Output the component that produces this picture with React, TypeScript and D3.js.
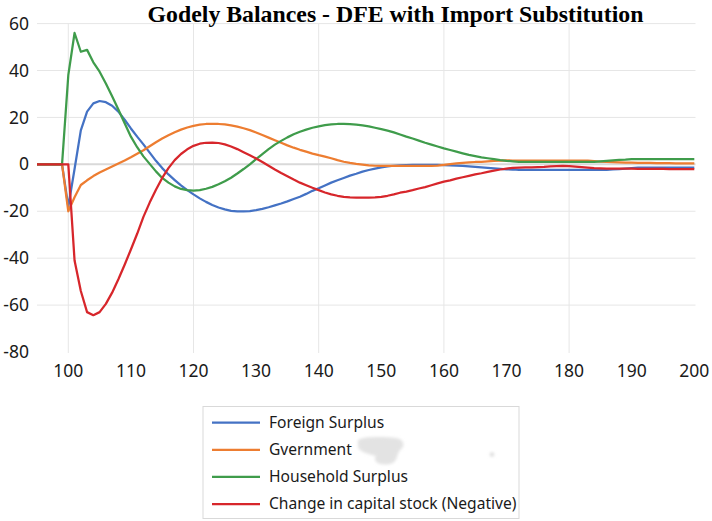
import React from "react";
import * as d3 from "d3";

const periods: number[] = d3.range(95, 201);

const foreignSurplus: number[] = [
  0, 0, 0, 0, 0,
  -18, -2, 14.5, 22.5, 26, 27, 26.5, 25, 22.5, 19,
  15.3, 11.8, 8.5, 5, 1.5, -1.6, -4.3, -6.7, -9, -11,
  -12.8, -14.5, -16, -17.3, -18.4, -19.2, -19.8, -20, -20, -19.9,
  -19.5, -19, -18.3, -17.5, -16.7, -15.8, -14.8, -13.8, -12.6, -11.3,
  -10.2, -9, -7.8, -6.8, -5.8, -4.8, -4, -3.1, -2.4, -1.8,
  -1.3, -0.9, -0.6, -0.4, -0.3, -0.2, -0.2, -0.2, -0.2, -0.2,
  -0.3, -0.4, -0.5, -0.7, -0.9, -1.1, -1.3, -1.5, -1.7, -1.9,
  -2.1, -2.2, -2.4,
  -2.4, -2.4, -2.4, -2.4, -2.4, -2.4, -2.4, -2.4, -2.4, -2.4, -2.4, -2.4, -2.4, -2.4,
  -2.2, -2.0, -1.8, -1.6,
  -1.4, -1.4, -1.4, -1.4, -1.4, -1.4, -1.4, -1.4, -1.4, -1.4,
];

const government: number[] = [
  0, 0, 0, 0, 0,
  -20, -14, -8.8, -6.8, -5, -3.5, -2.2, -0.9, 0.4, 1.6,
  3, 4.5, 6, 7.7, 9.4, 11, 12.4, 13.7, 14.8, 15.7,
  16.4, 16.9, 17.2, 17.3, 17.2, 17, 16.6, 16.1, 15.4, 14.6,
  13.6, 12.5, 11.4, 10.3, 9.2, 8.1, 7.1, 6.2, 5.4, 4.6,
  3.9, 3.3, 2.6, 1.8, 1.1, 0.6, 0.2, -0.1, -0.4, -0.6,
  -0.7,
  -0.7, -0.7, -0.7, -0.7, -0.7, -0.7, -0.7, -0.7,
  -0.5, -0.2, 0.1, 0.4, 0.6, 0.8, 1.0, 1.1, 1.3, 1.5, 1.6, 1.7,
  1.6, 1.6, 1.6, 1.6, 1.6, 1.6, 1.6, 1.6, 1.6, 1.6, 1.6, 1.6, 1.6,
  1.4, 1.2, 1.0, 0.9, 0.8,
  0.7, 0.7, 0.6, 0.6, 0.6, 0.5, 0.5, 0.5, 0.4, 0.4, 0.4, 0.4,
];

const householdSurplus: number[] = [
  0, 0, 0, 0, 0,
  38, 56, 48, 48.8, 43.5, 39.5, 34.5, 29, 23.4, 17.5,
  11.8, 7.3, 3.4, 0.2, -3, -5.8, -7.8, -9.4, -10.5, -11,
  -11.2, -11, -10.4, -9.6, -8.5, -7.2, -5.7, -3.9, -2, 0,
  2.2, 4.4, 6.5, 8.4, 10, 11.5, 12.8, 13.9, 14.8, 15.6,
  16.2, 16.7, 17, 17.2, 17.3, 17.1, 16.9, 16.6, 16.2, 15.6,
  15, 14.4, 13.6, 12.7, 11.8, 11, 10.1, 9.2, 8.4, 7.6,
  6.8, 6.1, 5.4, 4.7, 4.0, 3.5, 3.0, 2.6, 2.2, 1.8,
  1.5, 1.3, 1.1,
  1.1, 1.1, 1.1, 1.1, 1.1, 1.1, 1.1, 1.1, 1.1, 1.1, 1.1, 1.1,
  1.3, 1.5, 1.7, 1.9, 2.0,
  2.2, 2.2, 2.2, 2.2, 2.2, 2.2, 2.2, 2.2, 2.2, 2.2, 2.2,
];

const capitalStockChange: number[] = [
  0, 0, 0, 0, 0, 0,
  -41, -54, -63, -64.3, -63, -59.5, -54.7, -49, -42.8,
  -36.3, -29.6, -22.4, -16.3, -10.8, -5.8, -1.6, 1.8, 4.4, 6.4,
  7.9, 8.8, 9.2, 9.3, 9.1, 8.5, 7.6, 6.5, 5.2, 3.9,
  2.5, 1, -0.6, -2.2, -3.7, -5.1, -6.5, -7.8, -8.9, -10,
  -11, -12, -12.8, -13.4, -13.9, -14.1, -14.2, -14.2, -14.2, -14.1,
  -13.9, -13.4, -12.8, -12.1, -11.6, -11.0, -10.3, -9.7, -8.9, -8.1,
  -7.4, -6.8, -6.1, -5.5, -4.9, -4.3, -3.8, -3.2, -2.7, -2.2,
  -1.8, -1.5, -1.4, -1.3, -1.3, -1.2, -1.1, -0.9, -0.8, -0.7,
  -0.8, -1.0, -1.2, -1.4, -1.6, -1.7,
  -1.8, -1.8, -1.8, -1.8, -1.8, -1.9, -1.9, -1.9, -1.9, -1.9, -2.0, -2.0, -2.0, -2.0, -2.0,
];

const seriesNames: string[] = [
  "Foreign Surplus",
  "Gvernment",
  "Household Surplus",
  "Change in capital stock (Negative)",
];
const seriesColors: string[] = ["#4472c4", "#ed7d31", "#3f9c4b", "#d7262b"];
const seriesValues: number[][] = [foreignSurplus, government, householdSurplus, capitalStockChange];

const yTicks: number[] = [60, 40, 20, 0, -20, -40, -60, -80];
const xTicks: number[] = [100, 110, 120, 130, 140, 150, 160, 170, 180, 190, 200];
const xGridTicks: number[] = [100, 120, 140, 160, 180];
const title = "Godely Balances - DFE with Import Substitution";

export default function App() {
  const W = 712;
  const H = 521;
  const x = d3.scaleLinear().domain([95, 200]).range([37, 694.3]);
  const y = d3.scaleLinear().domain([-80, 60]).range([352, 23.6]);
  const line = d3
    .line<number>()
    .x((_, i) => x(periods[i]))
    .y((v) => y(v));

  const tickFont = "'Noto Sans', sans-serif";

  return (
    <svg
      width={W}
      height={H}
      viewBox={`0 0 ${W} ${H}`}
      style={{ position: "absolute", left: 0, top: 0, background: "#fff" }}
    >
      <defs>
        <filter id="blur" x="-50%" y="-50%" width="200%" height="200%">
          <feGaussianBlur stdDeviation="1.6" />
        </filter>
      </defs>
      <rect width={W} height={H} fill="#fff" />
      {/* horizontal gridlines */}
      {yTicks
        .filter((t) => t !== 0 && t !== -80)
        .map((t) => (
          <line key={"hg" + t} x1={37} x2={695.5} y1={y(t)} y2={y(t)} stroke="#e6e6e6" strokeWidth={1} />
        ))}
      {/* vertical gridlines */}
      {xGridTicks.map((t) => (
        <line key={"vg" + t} x1={x(t)} x2={x(t)} y1={y(60)} y2={y(-80) + 1} stroke="#e6e6e6" strokeWidth={1} />
      ))}
      {/* zero axis */}
      <line x1={37} x2={695.5} y1={y(0)} y2={y(0)} stroke="#d9d9d9" strokeWidth={2} />

      {/* series */}
      {seriesValues.map((vals, i) => (
        <path
          key={"s" + i}
          d={line(vals) || ""}
          fill="none"
          stroke={seriesColors[i]}
          strokeWidth={2.25}
          strokeLinejoin="round"
        />
      ))}

      {/* y tick labels */}
      {yTicks.map((t) => (
        <text
          key={"yl" + t}
          x={29}
          y={y(t)}
          dy="0.35em"
          textAnchor="end"
          fontFamily={tickFont}
          fontSize={17.5}
          fill="#1a1a1a"
        >
          {t}
        </text>
      ))}
      {/* x tick labels */}
      {xTicks.map((t) => (
        <text
          key={"xl" + t}
          x={x(t)}
          y={370.5}
          dy="0.35em"
          textAnchor="middle"
          fontFamily={tickFont}
          fontSize={17.5}
          fill="#1a1a1a"
        >
          {t}
        </text>
      ))}

      {/* title */}
      <text
        x={395.5}
        y={22}
        textAnchor="middle"
        fontFamily="'Liberation Serif', 'Times New Roman', serif"
        fontWeight="bold"
        fontSize={23.8}
        fill="#000"
      >
        {title}
      </text>

      {/* legend */}
      <rect x={203} y={406.5} width={316} height={112} fill="#fff" stroke="#d9d9d9" strokeWidth={1} />
      {seriesNames.map((name, i) => {
        const ly = 422.7 + i * 27.1;
        return (
          <g key={"lg" + i}>
            <line x1={212} x2={260} y1={ly} y2={ly} stroke={seriesColors[i]} strokeWidth={2.25} />
            <text
              x={269}
              y={ly}
              dy="0.35em"
              fontFamily={tickFont}
              fontSize={15.6}
              fill="#1a1a1a"
            >
              {name}
            </text>
          </g>
        );
      })}
      {/* smudge next to "Gvernment" */}
      <g filter="url(#blur)" fill="#e3e3e3">
        <path d="M358,440 C366,436 384,437 396,438 C404,439 406,446 400,450 C396,455 398,462 390,464 C380,466 372,462 376,456 C368,454 360,452 358,447 Z" />
        <circle cx={492} cy={454.5} r={2.2} fill="#dcdcdc" />
      </g>
    </svg>
  );
}
